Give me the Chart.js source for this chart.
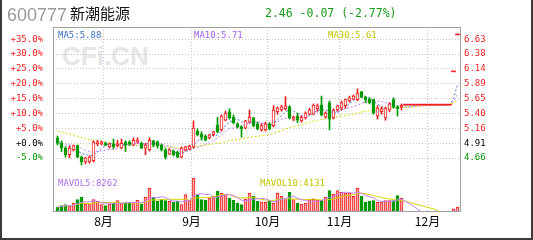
<!DOCTYPE html>
<html><head><meta charset="utf-8">
<script src="https://cdn.jsdelivr.net/npm/chart.js@4.4.1/dist/chart.umd.min.js"></script>
<style>
html,body{margin:0;padding:0;background:#fff;}
#wrap{position:relative;width:533px;height:240px;overflow:hidden;background:#fff;}
#c{position:absolute;left:0;top:0;}
.t{position:absolute;white-space:nowrap;}
#wm{left:62px;top:43px;font:bold 26px 'Liberation Sans',Arial,sans-serif;line-height:26px;color:#e6e6e6;}
#code{left:7px;top:5px;font:18px 'Liberation Sans',Arial,sans-serif;line-height:20px;color:#9a9a9a;}
#name{left:70px;top:3px;font:15px 'Noto Sans CJK SC',sans-serif;line-height:20px;color:#111;}
#quote{left:265px;top:3px;font:11.5px 'DejaVu Sans Mono',monospace;line-height:20px;color:#1a9a1a;}
.ma{top:30px;font:9px 'DejaVu Sans Mono',monospace;line-height:10px;}
.mv{top:178px;font:9px 'DejaVu Sans Mono',monospace;line-height:10px;}
.bd{position:absolute;background:#3a3a3a;}
</style></head><body>
<div id="wrap">
  <div class="t" id="wm">CFi.CN</div>
  <canvas id="c" width="533" height="240"></canvas>
  <div class="t" id="code">600777</div>
  <div class="t" id="name">新潮能源</div>
  <div class="t" id="quote">2.46 -0.07 (-2.77%)</div>
  <div class="t ma" style="left:58px;color:#3a6bc0">MA5:5.88</div>
  <div class="t ma" style="left:194px;color:#a65cf0">MA10:5.71</div>
  <div class="t ma" style="left:328px;color:#c4c400">MA30:5.61</div>
  <div class="t mv" style="left:58px;color:#b070f0">MAVOL5:8262</div>
  <div class="t mv" style="left:260px;color:#c4c400">MAVOL10:4131</div>
  <div class="bd" style="left:0;top:0;width:2px;height:240px"></div>
  <div class="bd" style="right:0;top:0;width:2px;height:240px"></div>
  <div class="bd" style="left:0;bottom:0;width:533px;height:2px"></div>
</div>
<script>
// ---- data ----
const openP = [5.00,4.91,4.83,4.72,4.80,4.87,4.68,4.60,4.60,4.62,
  4.90,4.90,4.91,4.85,4.90,4.87,4.83,4.93,4.93,4.88,
  4.93,4.91,4.83,4.80,4.95,4.93,4.88,4.80,4.73,4.78,
  4.77,4.68,4.80,4.81,4.85,5.11,5.06,5.03,5.00,5.05,
  5.21,5.13,5.29,5.43,5.34,5.23,5.18,5.16,5.26,5.33,
  5.23,5.13,5.13,5.23,5.20,5.43,5.46,5.48,5.51,5.31,
  5.36,5.28,5.33,5.39,5.39,5.48,5.54,5.34,5.58,5.33,
  5.46,5.49,5.53,5.61,5.64,5.63,5.76,5.67,5.64,5.63,
  5.36,5.43,5.33,5.46,5.63,5.51,5.51,5.54,5.54,5.54,
  5.54,5.54,5.54,5.54,5.54,5.54,5.54,5.54,5.54,6.09,6.70];
const closeP = [4.91,4.83,4.72,4.83,4.87,4.68,4.60,4.67,4.68,4.93,
  4.93,4.93,4.88,4.90,4.85,4.90,4.91,4.88,4.90,4.96,
  4.96,4.83,4.88,4.96,4.88,4.87,4.80,4.68,4.80,4.72,
  4.68,4.83,4.85,4.86,5.16,5.05,5.01,4.96,5.05,5.10,
  5.10,5.36,5.41,5.33,5.25,5.18,5.15,5.28,5.34,5.20,
  5.15,5.20,5.23,5.15,5.46,5.49,5.51,5.53,5.33,5.34,
  5.29,5.34,5.41,5.46,5.54,5.53,5.38,5.41,5.31,5.46,
  5.53,5.58,5.63,5.66,5.69,5.74,5.67,5.63,5.58,5.41,
  5.49,5.48,5.49,5.56,5.51,5.48,5.54,5.54,5.54,5.54,
  5.54,5.54,5.54,5.54,5.54,5.54,5.54,5.54,5.54,6.09,6.70];
const highP = [5.03,4.95,4.85,4.87,4.88,4.88,4.70,4.68,4.70,4.95,
  4.96,4.95,4.93,4.91,4.98,4.96,4.98,4.95,4.95,5.00,
  5.00,4.93,4.91,5.00,4.96,4.95,4.90,4.82,4.82,4.80,
  4.78,4.85,4.86,4.88,5.28,5.15,5.10,5.05,5.06,5.11,
  5.34,5.38,5.44,5.48,5.38,5.25,5.20,5.29,5.46,5.34,
  5.26,5.23,5.26,5.25,5.53,5.51,5.54,5.68,5.53,5.36,
  5.41,5.36,5.43,5.49,5.56,5.56,5.69,5.43,5.61,5.48,
  5.54,5.61,5.64,5.69,5.71,5.81,5.77,5.69,5.66,5.64,
  5.53,5.51,5.51,5.58,5.66,5.53,5.56,5.54,5.54,5.54,
  5.54,5.54,5.54,5.54,5.54,5.54,5.54,5.54,5.54,6.09,6.70];
const lowP = [4.88,4.77,4.68,4.67,4.78,4.67,4.55,4.57,4.58,4.60,
  4.87,4.88,4.87,4.83,4.82,4.85,4.82,4.77,4.87,4.87,
  4.91,4.82,4.72,4.78,4.85,4.83,4.78,4.65,4.72,4.70,
  4.67,4.67,4.78,4.80,4.83,5.03,4.96,4.95,4.98,5.03,
  5.08,5.11,5.28,5.31,5.23,5.16,5.01,5.15,5.25,5.18,
  5.13,5.11,5.11,5.13,5.18,5.39,5.44,5.46,5.31,5.28,
  5.25,5.26,5.31,5.38,5.38,5.44,5.36,5.33,5.13,5.31,
  5.44,5.46,5.49,5.59,5.63,5.61,5.66,5.58,5.56,5.39,
  5.31,5.39,5.29,5.43,5.49,5.36,5.46,5.54,5.54,5.54,
  5.54,5.54,5.54,5.54,5.54,5.54,5.54,5.54,5.54,6.09,6.70];
const volume = [25000,31700,36700,28300,45000,61700,75000,40000,36700,61700,
  53300,36700,31700,40000,45000,56700,45000,45000,45000,48300,
  58300,40000,75000,120000,73300,53300,61700,56700,53300,50000,
  53300,36700,86700,58300,170000,86700,61700,58300,70000,78300,
  103300,95000,86700,70000,58300,45000,36700,65000,95000,78300,
  53300,50000,48300,53300,45000,95000,78300,61700,98300,61700,
  45000,40000,45000,61700,65000,58300,58300,75000,106700,90000,
  106700,98300,95000,95000,78300,120000,78300,50000,53300,56700,
  48300,50000,56700,56700,56700,81700,70000,0,0,0,
  0,0,0,0,0,0,0,0,0,16200,25110];
// closes before the visible window (inferred from where the MA lines start)
const histCloses = [5.30,5.28,5.25,5.32,5.35,5.30,5.27,5.22,5.20,5.25,
  5.23,5.18,5.15,5.20,5.17,5.12,5.10,5.08,5.05,5.02,
  4.98,4.95,4.97,4.93,4.90,4.92,4.95,4.91,4.93];
const monthLabels = ['8月','9月','10月','11月','12月'];
const monthFirstIdx = [12,34,53,71,93];
const pctTicks = [-5,0,5,10,15,20,25,30,35];
const pctTickLabels = ['-5.0%','+0.0%','+5.0%','+10.0%','+15.0%','+20.0%','+25.0%','+30.0%','+35.0%'];
const priceTickLabels = ['4.66','4.91','5.16','5.40','5.65','5.89','6.14','6.38','6.63'];
const basePrice = 4.91;

// ---- styling ----
const RED = '#f41c1c', GREEN = '#009a00', FONT = "'DejaVu Sans Mono', monospace";
const N = closeP.length;
const idx = [...Array(N).keys()];
const up = i => closeP[i] >= openP[i];
const flat = i => highP[i] === lowP[i];

const wicks = idx.filter(i => !flat(i)).map(i => ({x: i, y: [lowP[i], highP[i]]}));
const bodies = idx.filter(i => !flat(i)).map(i => ({x: i, y: [openP[i], closeP[i]]}));
const flats = idx.filter(i => flat(i)).map(i => ({x: i, y: [openP[i], closeP[i]]}));
const vols = idx.filter(i => volume[i] > 0).map(i => ({x: i, y: volume[i]}));

const allC = histCloses.concat(closeP), H = histCloses.length;
function ma(n) {
  return idx.map(i => {
    const e = H + i, s = e - n + 1;
    if (s < 0) return {x: i, y: null};
    let t = 0; for (let k = s; k <= e; k++) t += allC[k];
    return {x: i, y: t / n};
  });
}
function maVol(n) {
  return idx.map(i => {
    const s = Math.max(0, i - n + 1);
    let t = 0; for (let k = s; k <= i; k++) t += volume[k];
    return {x: i, y: t / (i - s + 1)};
  });
}
const col = c => up(c.raw.x) ? RED : GREEN;

const frame = {
  id: 'frame',
  afterDraw(chart) {
    const {ctx, chartArea: a} = chart;
    ctx.save(); ctx.strokeStyle = '#a0a0a0'; ctx.lineWidth = 1;
    ctx.strokeRect(a.left + 0.5, a.top + 0.5, a.right - a.left - 1, a.bottom - a.top - 1);
    ctx.restore();
  }
};

new Chart(document.getElementById('c'), {
  type: 'bar',
  data: {
    datasets: [
      {type: 'bar', data: vols, yAxisID: 'yv', order: 9, grouped: false, barThickness: 3,
       borderWidth: 1, borderSkipped: false, borderColor: col,
       backgroundColor: c => up(c.raw.x) ? '#f6a6a6' : GREEN},
      {type: 'line', data: maVol(5), yAxisID: 'yv', order: 8, borderColor: '#c080ff', borderWidth: 1, pointRadius: 0},
      {type: 'line', data: maVol(10), yAxisID: 'yv', order: 8, borderColor: '#d4d400', borderWidth: 1, pointRadius: 0},
      {type: 'line', data: ma(30), yAxisID: 'yr', order: 7, borderColor: '#d8d800', borderWidth: 1, borderDash: [2, 2], pointRadius: 0},
      {type: 'line', data: ma(10), yAxisID: 'yr', order: 7, borderColor: '#c080ff', borderWidth: 1, borderDash: [2, 2], pointRadius: 0},
      {type: 'line', data: ma(5), yAxisID: 'yr', order: 7, borderColor: '#4f7fd8', borderWidth: 1, borderDash: [2, 2], pointRadius: 0},
      {type: 'bar', data: wicks, yAxisID: 'yr', order: 4, grouped: false, barThickness: 1,
       borderWidth: 0, backgroundColor: col},
      {type: 'bar', data: bodies, yAxisID: 'yr', order: 3, grouped: false, barThickness: 3,
       minBarLength: 1, borderWidth: 1, borderSkipped: false, borderColor: col,
       backgroundColor: c => up(c.raw.x) ? '#ffffff' : GREEN},
      {type: 'bar', data: flats, yAxisID: 'yr', order: 3, grouped: false, barThickness: 4,
       minBarLength: 1, borderWidth: 0, backgroundColor: col}
    ]
  },
  options: {
    responsive: false, animation: false, devicePixelRatio: 1,
    layout: {padding: {top: 27, left: 0, right: 0, bottom: 0}},
    plugins: {legend: {display: false}, tooltip: {enabled: false}},
    scales: {
      x: {type: 'linear', min: -1.125, max: 100.875, offset: false,
          afterBuildTicks: s => { s.ticks = monthFirstIdx.map(m => ({value: m - 0.5})); },
          afterFit: s => { s.height = 28; },
          ticks: {autoSkip: false, maxRotation: 0, padding: 2, color: '#000',
                  font: {family: "'Noto Sans CJK SC', sans-serif", size: 12},
                  callback: (v, i) => monthLabels[i]},
          grid: {color: '#c4c4c4', drawTicks: false, offset: false},
          border: {display: false, dash: [1, 2]}},
      yl: {position: 'left', min: -23.15, max: 39.14,
           afterBuildTicks: s => { s.ticks = pctTicks.map(v => ({value: v})); },
           afterFit: s => { s.width = 53; },
           ticks: {padding: 10, font: {family: FONT, size: 9},
                   color: c => c.tick.value > 0 ? RED : (c.tick.value < 0 ? GREEN : '#000'),
                   callback: (v, i) => pctTickLabels[i]},
           grid: {color: '#c4c4c4', drawTicks: false},
           border: {display: false, dash: [1, 2]}},
      yr: {position: 'right', min: basePrice * (1 - 0.2315), max: basePrice * (1 + 0.3914),
           afterBuildTicks: s => { s.ticks = pctTicks.map(v => ({value: basePrice * (1 + v / 100)})); },
           afterFit: s => { s.width = 72; },
           ticks: {padding: 3, font: {family: FONT, size: 9},
                   color: c => c.index > 1 ? RED : (c.index < 1 ? GREEN : '#000'),
                   callback: (v, i) => priceTickLabels[i]},
           grid: {drawOnChartArea: false, drawTicks: false},
           border: {display: false}},
      yv: {display: false, min: 0, max: 925000}
    }
  },
  plugins: [frame]
});
</script>
</body></html>
